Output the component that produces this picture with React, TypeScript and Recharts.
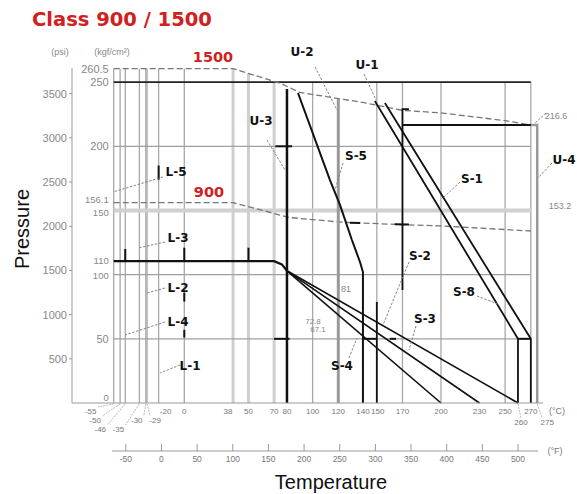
import React from "react";
import { ComposedChart, Line, XAxis, YAxis, ReferenceLine } from "recharts";

const W = 577;
const H = 494;

// temperatures in °C, pressures in kgf/cm²
const class1500 = [[-55, 260.5], [38, 260.5], [75, 249], [90, 242], [140, 234], [170, 228], [200, 226], [250, 220], [270, 216.6]];
const class900 = [[-55, 156.1], [38, 156.1], [82, 144.5], [121, 141], [168, 139], [199, 138], [270, 134]];

const ratingL = [[-55, 110.5], [70, 110.5], [76, 108], [80, 103]];
const fanS4 = [[80, 103], [200, 0]];
const fanS3 = [[80, 103], [230, 0]];
const fanS2 = [[80, 103], [260, 0]];
const lineU3 = [[80, 0], [80, 244.6]];
const lineS5 = [[88.6, 241.5], [113.5, 173.7], [121.3, 154.3], [130.6, 127], [136.9, 109.9], [139.2, 102], [139.2, 0]];
const lineU2 = [[120, 236.9], [120, 0]];
const lineU1a = [[148.5, 235.3], [260, 50], [260, 0]];
const lineU1b = [[156.3, 233.7], [270, 50], [270, 0]];
const line170 = [[175, 229], [170, 229], [170, 88]];
const line216 = [[170, 216.6], [270, 216.6]];
const lineU4 = [[270, 216.6], [275, 216.6], [275, 0]];
const line150 = [[150, 78.7], [150, 0]];

const ratingTicks = [
  [[-20, 185], [-20, 174]],
  [[-46, 120], [-46, 110.5]],
  [[0, 121], [0, 110.5]],
  [[50, 121], [50, 110.5]],
  [[0, 86], [0, 79]],
  [[0, 57], [0, 51]],
  [[71, 200], [84, 200]],
  [[70, 50], [82, 50]],
  [[139.2, 50], [150, 50]],
  [[160, 50], [165, 50]],
  [[260, 50], [270, 50]],
  [[129, 140.5], [137, 140.3]],
  [[164, 139.2], [175, 139]],
];

const gridTempsC = [-55, -50, -46, -35, -30, -29, -20, 0, 38, 50, 70, 100, 150, 170, 200, 250, 270];
const kgfMarks = [260.5, 250, 200, 156.1, 150, 110, 100, 50, 0];
const tickTempsC = [-55, -50, -46, -35, -30, -29, -20, 0, 38, 50, 70, 80, 100, 120, 140, 150, 170, 200, 230, 250, 260, 270, 275];
const tickTempsF = [-50, 0, 50, 100, 150, 200, 250, 300, 350, 400, 450, 500];
const psiTicks = [500, 1000, 1500, 2000, 2500, 3000, 3500];

const pts = (a: number[][]) => a.map(([t, p]) => ({ t, p }));
const cToF = (c: number) => c * 1.8 + 32;

const top1500 = (t: number) => {
  for (let i = 1; i < class1500.length; i++) {
    const [t0, p0] = class1500[i - 1];
    const [t1, p1] = class1500[i];
    if (t <= t1) return p0 + ((t - t0) / (t1 - t0)) * (p1 - p0);
  }
  return 216.6;
};

const GRAY = "#888";
const FONT = "Liberation Sans, Arial, sans-serif";
const BOLD = "DejaVu Sans, sans-serif";
const RED = "#d02020";

// label shifts for the crowded °C ticks: [dx, dy, leader]
const cShift: Record<string, [number, number, boolean]> = {
  "-55": [-23, 8, true],
  "-50": [-25, 17, true],
  "-46": [-25, 26, true],
  "-35": [-21, 26, true],
  "-30": [-9, 17, true],
  "-29": [8, 17, true],
  "-20": [7, 8, false],
  "38": [-5, 8, false],
  "140": [-1, 8, false],
  "150": [1, 8, false],
  "260": [3, 19, true],
  "275": [10, 19, true],
};

function CTick(props: any) {
  const { x, y, payload } = props;
  const s = cShift[String(payload.value)];
  const dx = s ? s[0] : 0;
  const dy = s ? s[1] : 8;
  const lx = x + dx;
  const ly = y + dy;
  return (
    <g>
      {s && s[2] && (
        <line
          x1={x}
          y1={y + 1}
          x2={lx + (dx < -3 ? 7 : dx > 3 ? -5 : 0)}
          y2={ly - 4}
          stroke="#999"
          strokeWidth={0.7}
          strokeDasharray="2 1"
        />
      )}
      <text x={lx} y={ly} textAnchor="middle" dominantBaseline="central" fontSize={8} fill="#777" fontFamily={FONT}>
        {payload.value}
      </text>
    </g>
  );
}

function FTick(props: any) {
  const { x, y, payload } = props;
  return (
    <g>
      <line x1={x} y1={y} x2={x} y2={y - 7} stroke="#999" strokeWidth={1} />
      <text x={x} y={y + 8} textAnchor="middle" dominantBaseline="central" fontSize={8.5} fill="#777" fontFamily={FONT}>
        {payload.value}
      </text>
    </g>
  );
}

function PsiTick(props: any) {
  const { x, y, payload } = props;
  return (
    <text x={x} y={y} textAnchor="end" dominantBaseline="central" fontSize={11} fill={GRAY} fontFamily={FONT}>
      {payload.value}
    </text>
  );
}

const leaders = [
  [315, 67, 337, 110], [364, 74, 376, 100], [267, 140, 285, 170], [343, 163, 335, 190],
  [460, 182, 443, 198], [552, 163, 538, 178], [409, 262, 383, 325], [477, 296, 498, 304],
  [416, 326, 409, 350], [349, 358, 357, 338], [163, 177, 113, 192], [165, 242, 138, 248],
  [165, 288, 147, 293], [165, 322, 125, 335], [180, 365, 160, 373], [546, 113, 534, 124],
];

const tags: [string, number, number][] = [
  ["U-2", 302, 52], ["U-1", 367, 65], ["U-3", 261, 121], ["S-5", 356, 156], ["S-1", 472, 179],
  ["U-4", 564, 160], ["S-2", 420, 256], ["S-8", 464, 292], ["S-3", 425, 319], ["S-4", 342, 366],
  ["L-5", 176, 172], ["L-3", 178, 238], ["L-2", 178, 288], ["L-4", 178, 322], ["L-1", 190, 366],
];

const notes: [string, number, number, number][] = [
  ["216.6", 556, 116, 9], ["153.2", 560, 206, 9], ["81", 346, 289, 9],
  ["72.8", 313, 321, 8], ["67.1", 318, 329, 8], ["(psi)", 60, 52, 9], ["(kgf/cm\u00B2)", 112, 52, 9],
];

const kgfLabelDy: Record<string, number> = { "156.1": -3, "150": 2, "110": -1, "100": 1, "0": -5 };

export default function App() {
  const series: { d: number[][]; c: string; w: number; dash?: string }[] = [
    { d: class1500, c: "#777", w: 1.3, dash: "6 3" },
    { d: class900, c: "#777", w: 1.3, dash: "6 3" },
    { d: lineU2, c: "#999", w: 3 },
    { d: lineU4, c: "#999", w: 2.5 },
    { d: ratingL, c: "#111", w: 2.2 },
    { d: fanS4, c: "#111", w: 1.6 },
    { d: fanS3, c: "#111", w: 1.6 },
    { d: fanS2, c: "#111", w: 1.6 },
    { d: lineU3, c: "#111", w: 2.5 },
    { d: lineS5, c: "#111", w: 2 },
    { d: lineU1a, c: "#111", w: 1.8 },
    { d: lineU1b, c: "#111", w: 1.8 },
    { d: line170, c: "#111", w: 1.8 },
    { d: line216, c: "#111", w: 1.8 },
    { d: line150, c: "#111", w: 1.8 },
    ...ratingTicks.map((d) => ({ d, c: "#111", w: 2 })),
  ];

  return (
    <div style={{ position: "absolute", left: 0, top: 0, width: W, height: H, background: "#fff" }}>
      <ComposedChart width={W} height={H} margin={{ top: 68, right: 34, bottom: 18, left: 32 }}>
        <XAxis
          xAxisId="c"
          dataKey="t"
          type="number"
          domain={[-87.5, 279.5]}
          allowDataOverflow
          ticks={tickTempsC}
          interval={0}
          tickLine={false}
          tickSize={0}
          tickMargin={0}
          height={48}
          axisLine={{ stroke: "#999" }}
          tick={(p: any) => <CTick {...p} />}
        />
        <XAxis
          xAxisId="f"
          dataKey="t"
          type="number"
          domain={[cToF(-87.5), cToF(279.5)]}
          allowDataOverflow
          ticks={tickTempsF}
          interval={0}
          tickLine={false}
          tickSize={0}
          tickMargin={0}
          height={25}
          axisLine={false}
          tick={(p: any) => <FTick {...p} />}
        />
        <YAxis yAxisId="kgf" type="number" domain={[0, 261]} width={0} hide />
        <YAxis
          yAxisId="psi"
          type="number"
          domain={[0, 3790]}
          allowDataOverflow
          ticks={psiTicks}
          interval={0}
          width={40}
          tickSize={3}
          tickMargin={2}
          axisLine={{ stroke: "#999" }}
          tickLine={{ stroke: "#999" }}
          tick={(p: any) => <PsiTick {...p} />}
        />

        {gridTempsC.map((t) => {
          const heavy = t === 38 || t === 50 || t === 70;
          return (
            <ReferenceLine
              key={`v${t}`}
              xAxisId="c"
              yAxisId="kgf"
              segment={[{ x: t, y: 0 }, { x: t, y: t <= 50 ? top1500(t) : 250 }]}
              stroke={heavy ? "#cfcfcf" : "#a8a8a8"}
              strokeWidth={heavy ? 3 : 1.3}
            />
          );
        })}

        {kgfMarks.map((v) => {
          const drawn = v === 250 || v === 200 || v === 150 || v === 100 || v === 50;
          const stroke = v === 250 ? "#222" : v === 150 ? "#d0d0d0" : drawn ? "#a0a0a0" : "none";
          const w = v === 250 ? 1.6 : v === 150 ? 4 : 1.2;
          const small = v === 0 || v === 156.1 || v === 150 || v === 110 || v === 100;
          return (
            <ReferenceLine
              key={`h${v}`}
              xAxisId="c"
              yAxisId="kgf"
              segment={[{ x: -55, y: v }, { x: 270, y: v }]}
              stroke={stroke}
              strokeWidth={w}
              label={{
                value: String(v),
                position: "left",
                offset: 5,
                dy: kgfLabelDy[String(v)] || 0,
                fill: GRAY,
                fontSize: small ? 9.5 : 11,
                fontFamily: FONT,
              }}
            />
          );
        })}

        {series.map((s, i) => (
          <Line
            key={`s${i}`}
            xAxisId="c"
            yAxisId="kgf"
            data={pts(s.d)}
            dataKey="p"
            type="linear"
            stroke={s.c}
            strokeWidth={s.w}
            strokeDasharray={s.dash}
            dot={false}
            activeDot={false}
            isAnimationActive={false}
          />
        ))}
      </ComposedChart>

      <svg width={W} height={H} style={{ position: "absolute", left: 0, top: 0, pointerEvents: "none" }}>
        <line x1={112} y1={451} x2={538} y2={451} stroke="#999" strokeWidth={1} />
        <text x={32} y={26} fontFamily={BOLD} fontWeight="bold" fontSize={19.5} fill={RED}>
          Class 900 / 1500
        </text>
        <text x={213} y={57} textAnchor="middle" dominantBaseline="central" fontFamily={BOLD} fontWeight="bold" fontSize={14.5} fill={RED}>
          1500
        </text>
        <text x={209} y={192} textAnchor="middle" dominantBaseline="central" fontFamily={BOLD} fontWeight="bold" fontSize={14.5} fill={RED}>
          900
        </text>
        <text x={22} y={229} transform="rotate(-90 22 229)" textAnchor="middle" dominantBaseline="central" fontFamily={FONT} fontSize={20} fill="#111">
          Pressure
        </text>
        <text x={331} y={489} textAnchor="middle" fontFamily={FONT} fontSize={20} fill="#111">
          Temperature
        </text>
        <text x={557} y={411} textAnchor="middle" dominantBaseline="central" fontFamily={FONT} fontSize={9} fill="#777">
          (°C)
        </text>
        <text x={555} y={451} textAnchor="middle" dominantBaseline="central" fontFamily={FONT} fontSize={9} fill="#777">
          (°F)
        </text>
        {leaders.map(([x1, y1, x2, y2], i) => (
          <line key={`l${i}`} x1={x1} y1={y1} x2={x2} y2={y2} stroke="#777" strokeWidth={0.9} strokeDasharray="2.5 1.5" />
        ))}
        {tags.map(([t, x, y]) => (
          <text key={t} x={x} y={y} textAnchor="middle" dominantBaseline="central" fontFamily={BOLD} fontWeight="bold" fontSize={12} fill="#111">
            {t}
          </text>
        ))}
        {notes.map(([t, x, y, fs]) => (
          <text key={t} x={x} y={y} textAnchor="middle" dominantBaseline="central" fontFamily={FONT} fontSize={fs} fill="#888">
            {t}
          </text>
        ))}
      </svg>
    </div>
  );
}
